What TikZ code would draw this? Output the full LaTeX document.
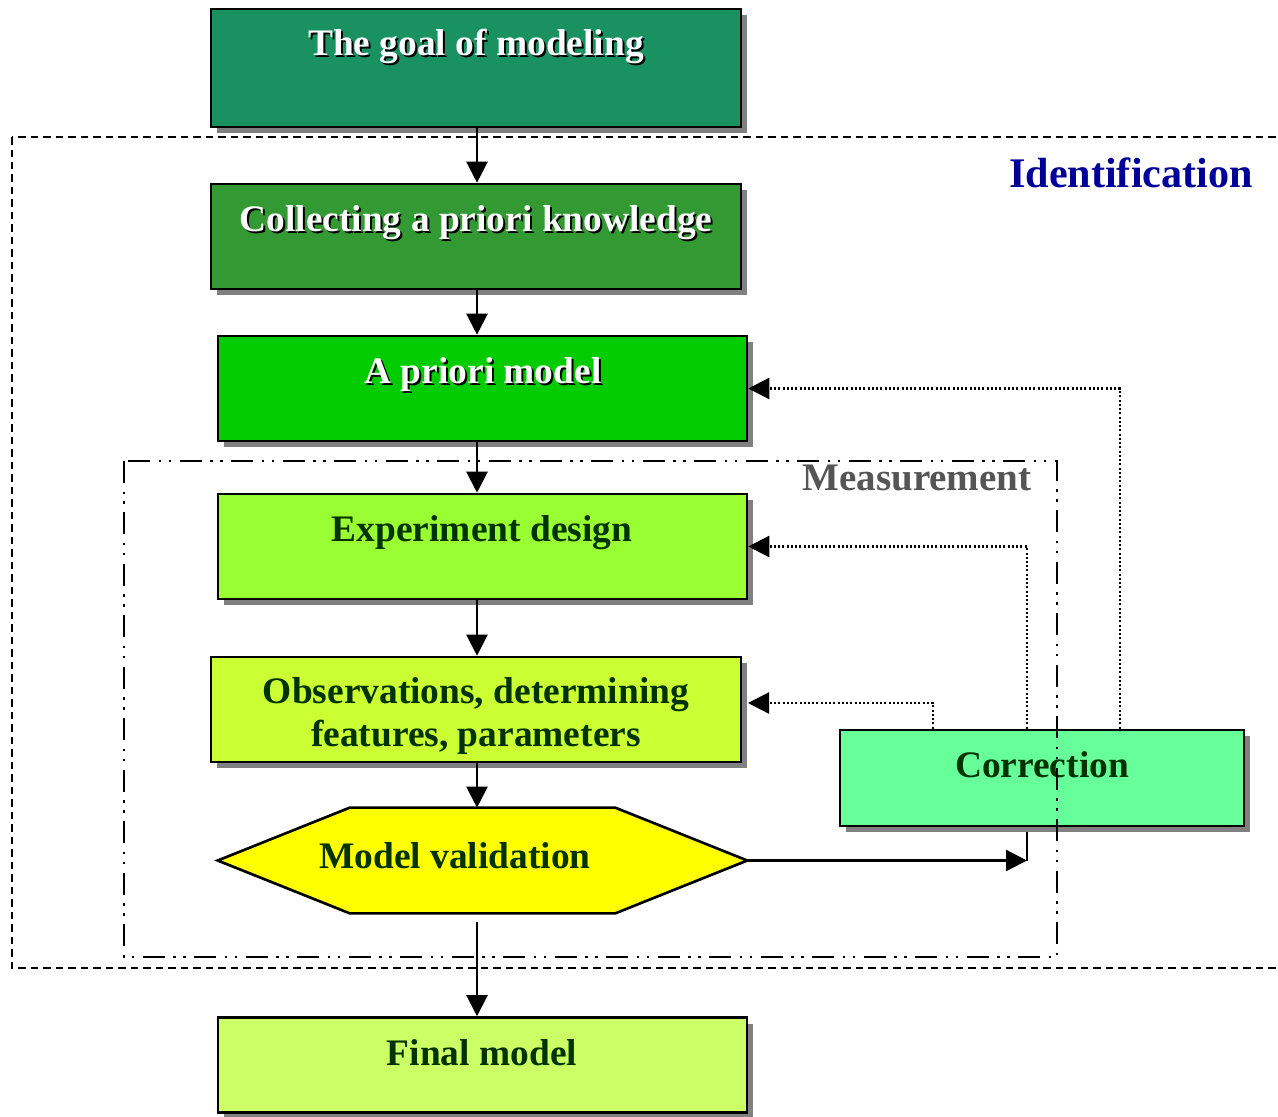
\documentclass[tikz,border=0pt]{standalone}
\usepackage{fontspec}
\setmainfont{Liberation Serif}
\usetikzlibrary{arrows.meta,calc,shadows}

\definecolor{cGoal}{HTML}{1A9160}
\definecolor{cCollect}{HTML}{339933}
\definecolor{cPrior}{HTML}{00CC00}
\definecolor{cExp}{HTML}{99FF33}
\definecolor{cObs}{HTML}{CCFF33}
\definecolor{cVal}{HTML}{FFFF00}
\definecolor{cFinal}{HTML}{CCFF66}
\definecolor{cCorr}{HTML}{66FF99}
\definecolor{txtDark}{HTML}{003300}
\definecolor{shGray}{HTML}{808080}
\definecolor{idBlue}{HTML}{000099}
\definecolor{measGray}{HTML}{555555}

\begin{document}
\begin{tikzpicture}[x=0.02cm,y=-0.02cm,
  box/.style={draw=black, line width=1.5pt, inner sep=0pt,
    general shadow={fill=shGray, shadow xshift=0.12cm, shadow yshift=-0.12cm}},
  lbl/.style={font=\fontsize{21.3}{25}\selectfont\bfseries, anchor=base, inner sep=0pt},
  darklbl/.style={lbl, text=txtDark},
  whitelbl/.style={lbl, text=white},
  embshadow/.style={lbl, text=black},
  arr/.style={line width=1.3pt, -{Triangle[length=0.42cm,width=0.42cm]}},
  fb/.style={line width=1.3pt, dash pattern=on 0.04cm off 0.045cm,
    -{Triangle[length=0.42cm,width=0.42cm]}},
  plain/.style={line width=1.3pt},
  idframe/.style={line width=1.2pt, dash pattern=on 0.15cm off 0.1cm},
  measframe/.style={line width=1.6pt,
    dash pattern=on 0.44cm off 0.17cm on 0.05cm off 0.15cm on 0.05cm off 0.17cm}]

\useasboundingbox (0,0) rectangle (1278,1116);
\clip (0,0) rectangle (1278,1116);

% outer identification frame
\draw[idframe] (12,137) rectangle (1300,968);
\node[font=\fontsize{24}{28}\selectfont\bfseries, text=idBlue, anchor=base, inner sep=0pt]
  (idlabel) at (1131,187) {Identification};

% reference columns for the connectors
\coordinate (xline) at (477,0);
\coordinate (f1) at (1120,0);
\coordinate (f2) at (1027,0);
\coordinate (f3) at (933,0);

% boxes
\node[box, fill=cGoal, minimum width=10.6cm, minimum height=2.36cm] (goal) at (476,68) {};
\node[box, fill=cCollect, minimum width=10.6cm, minimum height=2.1cm] (collect) at (476,236.5) {};
\node[box, fill=cPrior, minimum width=10.58cm, minimum height=2.1cm] (prior) at (482.5,388.5) {};
\node[box, fill=cExp, minimum width=10.58cm, minimum height=2.1cm] (exper) at (482.5,546.5) {};
\node[box, fill=cObs, minimum width=10.6cm, minimum height=2.1cm] (obs) at (476,709.5) {};
\node[box, fill=cFinal, minimum width=10.58cm, minimum height=1.9cm] (final) at (482.5,1065) {};

% hexagonal validation step
\node[minimum width=10.58cm, minimum height=2.1cm, inner sep=0pt] (val) at (482.5,860.5) {};
\fill[shGray, shift={(5,5)}] (val.west) -- ($(val.north west)+(132,0)$) -- ($(val.north east)+(-132,0)$)
  -- (val.east) -- ($(val.south east)+(-132,0)$) -- ($(val.south west)+(132,0)$) -- cycle;
\draw[fill=cVal, line width=1.5pt, line join=miter] (val.west) -- ($(val.north west)+(132,0)$) -- ($(val.north east)+(-132,0)$)
  -- (val.east) -- ($(val.south east)+(-132,0)$) -- ($(val.south west)+(132,0)$) -- cycle;

% box texts
\node[embshadow] (goalS) at (478,57) {The goal of modeling};
\node[whitelbl] (goalT) at (476,55) {The goal of modeling};
\node[embshadow] (collectS) at (478,233) {Collecting a priori knowledge};
\node[whitelbl] (collectT) at (476,231) {Collecting a priori knowledge};
\node[embshadow] (priorS) at (485,385) {A priori model};
\node[whitelbl] (priorT) at (483,383) {A priori model};
\node[darklbl] (experT) at (482,541) {Experiment design};
\node[darklbl] (obsT1) at (476,703) {Observations, determining};
\node[darklbl] (obsT2) at (476,746) {features, parameters};
\node[darklbl] (valT) at (455,868) {Model validation};
\node[darklbl] (finalT) at (482,1065) {Final model};

% main flow
\draw[arr] (goal.south -| xline) -- (collect.north -| xline);
\draw[arr] (collect.south -| xline) -- (prior.north -| xline);
\draw[arr] (prior.south -| xline) -- (exper.north -| xline);
\draw[arr] (exper.south -| xline) -- (obs.north -| xline);
\draw[arr] (obs.south -| xline) -- (val.north -| xline);
\draw[arr] ([yshift=-0.18cm]val.south -| xline) -- (final.north -| xline);

% validation result to correction
\coordinate (hk) at (val.east -| f2);
\draw[plain] (hk) -- ($(hk)+(0,-32)$);
\draw[arr] (val.east) -- (hk);

% correction step
\node[box, fill=cCorr, minimum width=8.08cm, minimum height=1.92cm] (corr) at (1042,778) {};
\node[darklbl] (corrT) at (1042,777) {Correction};

% feedback paths
\coordinate (obsIn) at (748,703);
\draw[fb] (corr.north -| f1) |- (prior.east);
\draw[fb] (corr.north -| f2) |- (exper.east);
\draw[fb] (corr.north -| f3) |- (obsIn);

% measurement frame
\draw[measframe] (124,461) rectangle (1057,957);
\node[font=\fontsize{22.2}{26}\selectfont\bfseries, text=measGray, anchor=base, inner sep=0pt]
  (measlabel) at (917,490) {Measurement};

\end{tikzpicture}
\end{document}
